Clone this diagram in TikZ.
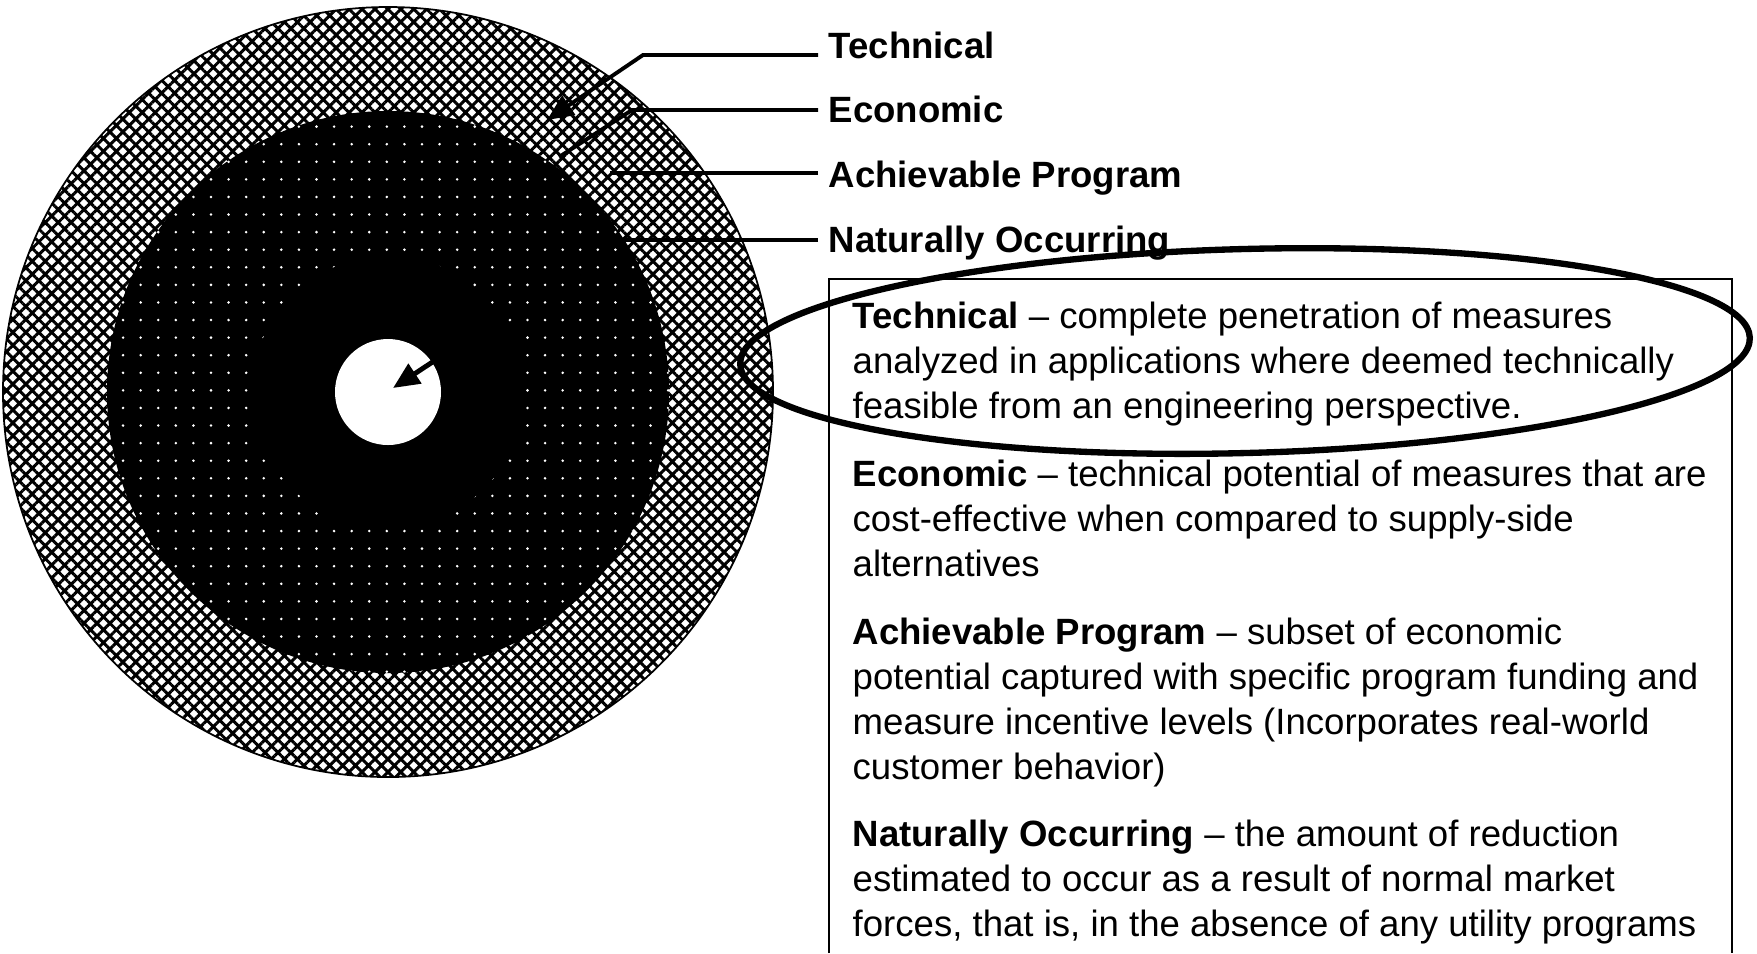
\documentclass[tikz,border=0pt]{standalone}
\usepackage{fontspec}
\setmainfont{Liberation Sans}
\usepackage{tikz}
\usetikzlibrary{arrows.meta,%
                shapes,positioning,patterns.meta}

\begin{document}
\begin{tikzpicture}[x=0.01cm,y=-0.01cm,
  lbl/.style={anchor=base west,inner xsep=0.1cm,inner ysep=0pt,font=\fontsize{10.4}{12.8}\selectfont\bfseries},
  leader/.style={line width=1.1pt},
  ptr/.style={line width=1.1pt,-{Triangle[length=7.5pt,width=6.5pt]}},
  ring/.style={line width=0.5pt}]
\useasboundingbox (0,0) rectangle (1757,953);
\fill[white] (0,0) rectangle (1757,953);

\coordinate (ctr) at (388,392);
\fill[white] (ctr) circle[radius=385];
\fill[pattern={Hatch[angle=45,distance=2.6pt,line width=0.85pt]}] (ctr) circle[radius=385];
\draw[ring] (ctr) circle[radius=385];
\fill[black] (ctr) circle[radius=281];
\fill[pattern={Dots[distance=5pt,radius=0.4pt]},pattern color=white] (ctr) circle[radius=281];
\fill[black] (ctr) circle[radius=136];
\fill[white] (ctr) circle[radius=53];

\node[lbl] (Tech) at (818,58) {Technical};
\node[lbl] (Econ) at (818,122) {Economic};
\node[lbl] (Achv) at (818,187) {Achievable Program};
\node[lbl] (Natu) at (818,252) {Naturally Occurring};

\coordinate (techBend) at (643,55);
\coordinate (techTip) at (547,120);
\coordinate (econBend) at (632,110);
\coordinate (econEnd) at (559,157);
\coordinate (achvEnd) at (610,173);
\coordinate (natuEnd) at (622,240);
\coordinate (coreFrom) at (434,361);
\coordinate (coreTip) at (393,388);

\draw[ptr] (Tech.west |- techBend) -- (techBend) -- (techTip);
\draw[leader] (Econ.west |- econBend) -- (econBend) -- (econEnd);
\draw[leader] (Achv.west |- achvEnd) -- (achvEnd);
\draw[leader] (Natu.west |- natuEnd) -- (natuEnd);
\draw[ptr,line width=1.4pt] (coreFrom) -- (coreTip);

\draw[line width=0.8pt] (829,953) -- (829,279) -- (1732,279) -- (1732,953);
\node[anchor=north west,inner sep=0pt,align=left,font=\fontsize{10.4}{12.8}\selectfont] (defs) at (852,301)
{\textbf{Technical} – complete penetration of measures\\
analyzed in applications where deemed technically\\
feasible from an engineering perspective.\\[6.5pt]
\textbf{Economic} – technical potential of measures that are\\
cost-effective when compared to supply-side\\
alternatives\\[6.5pt]
\textbf{Achievable Program} – subset of economic\\
potential captured with specific program funding and\\
measure incentive levels (Incorporates real-world\\
customer behavior)\\[6.5pt]
\textbf{Naturally Occurring} – the amount of reduction\\
estimated to occur as a result of normal market\\
forces, that is, in the absence of any utility programs};

\draw[line width=1.8pt,rotate around={1.5:(1245,351)}] (1245,351) ellipse[x radius=505,y radius=102];
\end{tikzpicture}
\end{document}
